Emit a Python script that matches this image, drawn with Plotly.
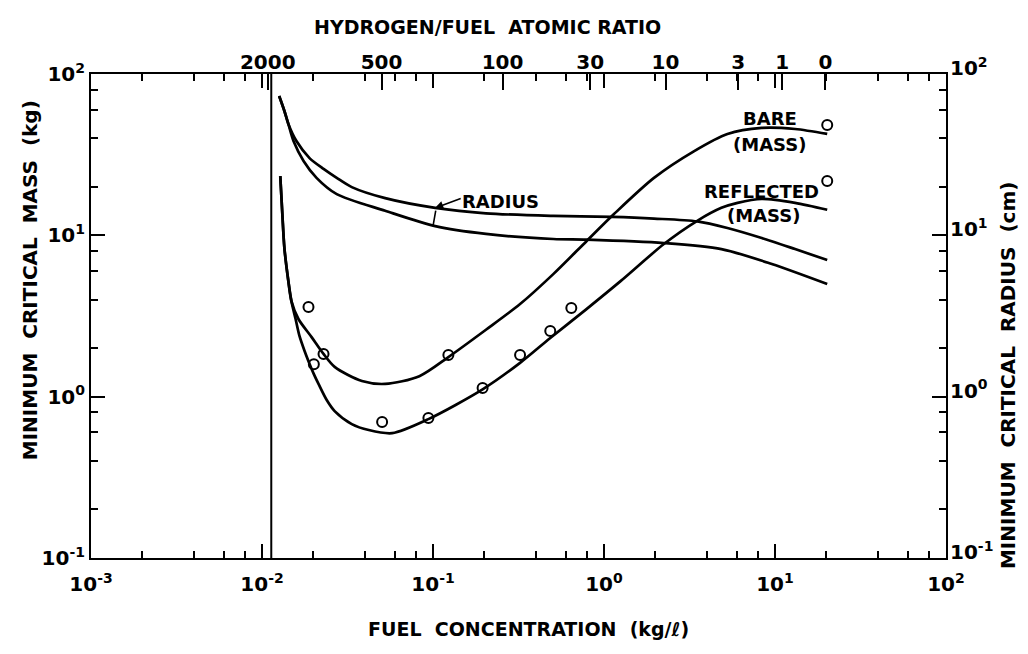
import math
import plotly.graph_objects as go

# ---------------- data ----------------
# fuel concentration (kg/l) vs minimum critical radius (cm), two curves
radius_a_x = [0.0126, 0.01352, 0.01426, 0.0159, 0.01897, 0.0229, 0.02735, 0.0335, 0.0525, 0.103, 0.204, 0.505, 1.11, 1.96, 3.51, 5.27, 8.36, 13.1, 20.2]
radius_a_y = [73.0, 59.0, 49.0, 38.4, 30.1, 25.8, 22.7, 19.9, 17.0, 14.8, 13.7, 13.2, 13.0, 12.7, 12.2, 11.1, 9.62, 8.22, 7.03]
radius_b_x = [0.0126, 0.01352, 0.01426, 0.01528, 0.0175, 0.02084, 0.02735, 0.0525, 0.103, 0.204, 0.505, 0.79, 2.24, 4.86, 9.58, 20.2]
radius_b_y = [73.0, 59.0, 49.0, 38.4, 28.9, 22.7, 18.0, 14.2, 11.4, 10.2, 9.49, 9.4, 8.96, 8.22, 6.64, 4.99]

# bare mass (kg)
bare_x = [0.01279, 0.01315, 0.01352, 0.01426, 0.01486, 0.01633, 0.0195, 0.0229, 0.0266, 0.0384, 0.0525, 0.0832, 0.123, 0.204, 0.323, 0.505, 0.79, 1.14, 1.96, 3.37, 5.27, 8.36, 13.1, 20.2]
bare_y = [23.3, 13.55, 8.34, 5.21, 3.91, 3.03, 2.34, 1.84, 1.53, 1.25, 1.20, 1.34, 1.76, 2.6, 3.75, 5.75, 9.2, 13.5, 22.7, 33.3, 42.5, 46.3, 45.6, 42.5]

# reflected mass (kg)
refl_x = [0.01279, 0.01315, 0.01352, 0.01426, 0.01486, 0.01572, 0.01656, 0.01774, 0.0187, 0.0201, 0.0214, 0.0239, 0.0266, 0.0335, 0.0421, 0.0577, 0.094, 0.195, 0.323, 0.485, 0.79, 1.25, 2.24, 3.51, 4.86, 6.04, 8.36, 13.1, 20.2]
refl_y = [23.3, 13.55, 8.34, 5.21, 3.91, 3.03, 2.38, 1.92, 1.66, 1.38, 1.20, 0.953, 0.814, 0.676, 0.621, 0.594, 0.726, 1.11, 1.62, 2.31, 3.49, 5.2, 8.83, 12.3, 14.8, 15.9, 16.8, 15.9, 14.4]

# experimental points (kg)
pts_x = [0.0187, 0.0229, 0.0201, 0.0504, 0.0940, 0.123, 0.195, 0.323, 0.485, 0.644, 20.2, 20.2]
pts_y = [3.59, 1.84, 1.59, 0.696, 0.737, 1.81, 1.13, 1.81, 2.55, 3.54, 48.3, 21.7]

# limiting concentration (vertical line)
limit_x = [0.01133]

# axis ticks
x_major = [1e-3, 1e-2, 1e-1, 1e0, 1e1, 1e2]
x_major_text = ["10<sup>-3</sup>", "10<sup>-2</sup>", "10<sup>-1</sup>", "10<sup>0</sup>", "10<sup>1</sup>", "10<sup>2</sup>"]
y_major = [1e-1, 1e0, 1e1, 1e2]
y_major_text = ["10<sup>-1</sup>", "10<sup>0</sup>", "10<sup>1</sup>", "10<sup>2</sup>"]
minor_digits = [2, 4, 6, 8]
# hydrogen/fuel atomic ratio scale (top), positions in fuel concentration
h_ratio_pos = [0.0108, 0.0500, 0.255, 0.83, 2.29, 6.1, 11.0, 19.7]
h_ratio_text = ["2000", "500", "100", "30", "10", "3", "1", "0"]

x_minor = [d * 10 ** e for e in range(-3, 2) for d in minor_digits]
y_minor = [d * 10 ** e for e in range(-1, 2) for d in minor_digits]

FONT = "DejaVu Sans"
BLACK = "black"
LW = 2.7

fig = go.Figure()

line_style = dict(color=BLACK, width=LW, shape="spline", smoothing=0.8)
fig.add_trace(go.Scatter(x=radius_a_x, y=radius_a_y, mode="lines", line=line_style, yaxis="y2", hoverinfo="skip"))
fig.add_trace(go.Scatter(x=radius_b_x, y=radius_b_y, mode="lines", line=line_style, yaxis="y2", hoverinfo="skip"))
fig.add_trace(go.Scatter(x=bare_x, y=bare_y, mode="lines", line=line_style, hoverinfo="skip"))
fig.add_trace(go.Scatter(x=refl_x, y=refl_y, mode="lines", line=line_style, hoverinfo="skip"))
fig.add_trace(go.Scatter(x=pts_x, y=pts_y, mode="markers",
                         marker=dict(symbol="circle-open", size=10, color=BLACK, line=dict(width=2, color=BLACK)),
                         hoverinfo="skip"))
fig.add_trace(go.Scatter(x=limit_x * 2, y=[y_major[0], y_major[-1]], mode="lines",
                         line=dict(color=BLACK, width=2), hoverinfo="skip"))
# top ratio axis carrier (invisible)
fig.add_trace(go.Scatter(x=h_ratio_pos, y=[y_major[0]] * len(h_ratio_pos), mode="markers", xaxis="x2",
                         marker=dict(opacity=0), hoverinfo="skip"))

tick_font = dict(family=FONT, size=20, color=BLACK, weight="bold")
common = dict(type="log", showgrid=False, zeroline=False, showline=True, linecolor=BLACK, linewidth=2,
              ticks="inside", tickcolor=BLACK, tickwidth=1.8, tickfont=tick_font)

fig.update_layout(
    width=1028, height=654,
    paper_bgcolor="white", plot_bgcolor="white",
    showlegend=False,
    margin=dict(l=83, r=90, t=66, b=104),
    xaxis=dict(**common, range=[-3, 2], tickmode="array", tickvals=x_major, ticktext=x_major_text,
               ticklen=14, mirror="ticks", ticklabelstandoff=7,
               minor=dict(tickmode="array", tickvals=x_minor, ticks="inside", ticklen=7,
                          tickwidth=1.8, tickcolor=BLACK, showgrid=False)),
    xaxis2=dict(type="log", range=[-3, 2], overlaying="x", side="top", anchor="y",
                showgrid=False, zeroline=False, showline=False,
                tickmode="array", tickvals=h_ratio_pos, ticktext=h_ratio_text,
                ticks="inside", ticklen=16, tickwidth=2, tickcolor=BLACK, tickfont=tick_font),
    yaxis=dict(**common, range=[-1, 2], tickmode="array", tickvals=y_major, ticktext=y_major_text,
               ticklen=14, mirror="ticks",
               minor=dict(tickmode="array", tickvals=y_minor, ticks="inside", ticklen=7,
                          tickwidth=1.8, tickcolor=BLACK, showgrid=False)),
    yaxis2=dict(type="log", range=[-1, 2], overlaying="y", side="right", anchor="x",
                showgrid=False, zeroline=False, showline=False,
                tickmode="array", tickvals=y_major, ticktext=y_major_text,
                ticks="", tickfont=tick_font, ticklabelstandoff=3, ticklabelshift=-6),
)

ann_font = dict(family=FONT, size=18, color=BLACK, weight="bold")
title_font = dict(family=FONT, size=19, color=BLACK, weight="bold")
side_title_font = dict(family=FONT, size=20, color=BLACK, weight="bold")
lg = math.log10

def add_text(text, x, y, **kw):
    fig.add_annotation(text=text, x=lg(x), y=lg(y), xref="x", yref="y", showarrow=False,
                       xanchor="center", yanchor="middle", font=ann_font, **kw)

add_text("BARE", 9.3, 53)
add_text("(MASS)", 9.3, 36.8)
add_text("REFLECTED", 8.36, 18.8)
add_text("(MASS)", 8.6, 13.2)
add_text("RADIUS", 0.249, 16.3)

# radius pointer
fig.add_annotation(x=lg(0.103), y=lg(14.8), xref="x", yref="y2", ax=27, ay=-10, text="",
                   showarrow=True, arrowhead=2, arrowsize=1, arrowwidth=1.6, arrowcolor=BLACK)
fig.add_annotation(x=lg(0.100), y=lg(11.4), xref="x", yref="y2", ax=3, ay=-17, text="",
                   showarrow=True, arrowhead=0, arrowwidth=1.6, arrowcolor=BLACK)

# axis titles
def add_title(text, x, y, angle=0, font=title_font):
    fig.add_annotation(text=text, xref="paper", yref="paper", x=x, y=y, xanchor="center", yanchor="middle",
                       textangle=angle, showarrow=False, font=font)

add_title("HYDROGEN/FUEL&nbsp;&nbsp;ATOMIC&nbsp;RATIO", 0.464, 1.097)
add_title("FUEL&nbsp;&nbsp;CONCENTRATION&nbsp;&nbsp;(kg/<i>ℓ</i>)", 0.512, -0.147)
add_title("MINIMUM&nbsp;&nbsp;CRITICAL&nbsp;&nbsp;MASS&nbsp;&nbsp;(kg)", -0.0713, 0.574, -90, side_title_font)
add_title("MINIMUM&nbsp;&nbsp;CRITICAL&nbsp;&nbsp;RADIUS&nbsp;&nbsp;(cm)", 1.0725, 0.378, -90, side_title_font)

fig.write_html("out.html")
